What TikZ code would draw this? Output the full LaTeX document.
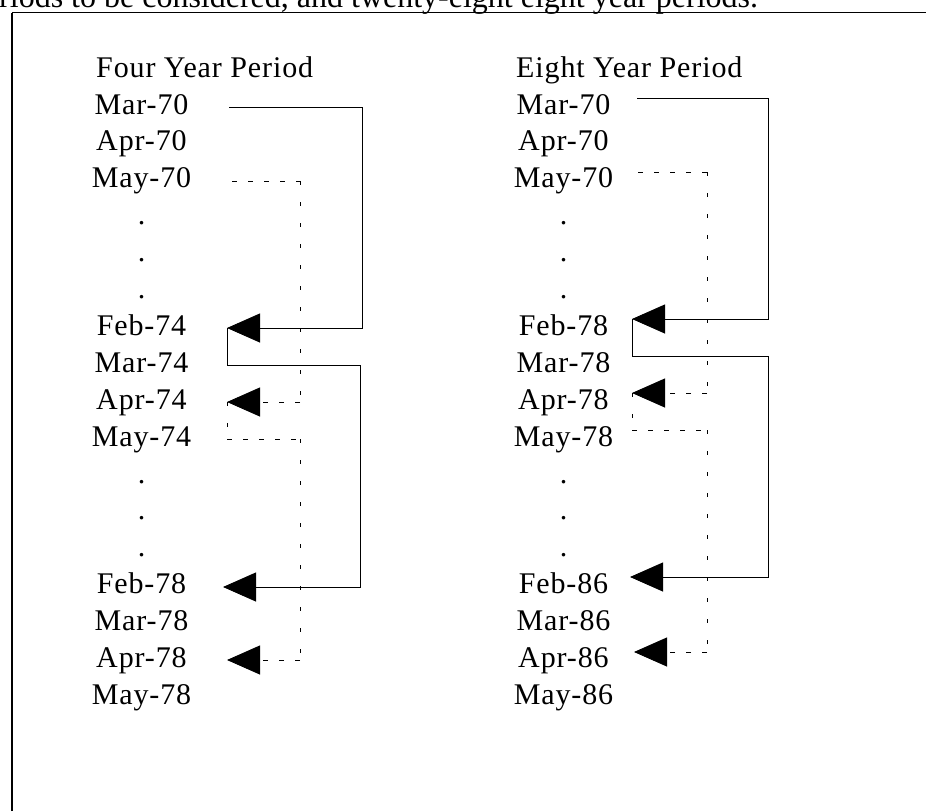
\documentclass[tikz,border=0pt]{standalone}
\usepackage{fontspec}
\setmainfont{Liberation Serif}
\newfontfamily\labfont[LetterSpace=3]{Liberation Serif}
\usetikzlibrary{arrows.meta}
\begin{document}
\begin{tikzpicture}[x=1pt,y=-1pt,
  lab/.style={font=\labfont\fontsize{30}{35}\selectfont, inner sep=0pt, anchor=base},
  hdr/.style={lab, anchor=base west},
  conn/.style={line width=0.9pt, line join=miter},
  hdash/.style={conn, dash pattern=on 5pt off 11pt},
  vdash/.style={conn, dash pattern=on 4pt off 17pt},
  tipped/.style={-{Triangle[length=33pt,width=29pt]}},
]
\useasboundingbox (0,0) rectangle (926,811);

% cropped caption above the box
\node[anchor=base west, inner sep=0pt, font=\fontsize{32}{38}\selectfont] (cap) at (-1,7.5) {riods to be considered, and twenty-eight eight year periods.};

% frame
\coordinate (fbl) at (12,811);
\coordinate (ftl) at (12,12.5);
\coordinate (ftr) at (926,12.5);
\draw[line width=2.2pt] (fbl) -- (ftl);
\draw[line width=1.4pt] (ftl) -- (ftr);

% headers
\node[hdr] (hL) at (96,77) {Four Year Period};
\node[hdr] (hR) at (516,77) {Eight Year Period};

% left column
\node[lab] (a0) at (141.5,114.0) {Mar-70};
\node[lab] (a1) at (141.5,150.9) {Apr-70};
\node[lab] (a2) at (141.5,187.8) {May-70};
\node[lab] (a3) at (141.5,224.7) {.};
\node[lab] (a4) at (141.5,261.6) {.};
\node[lab] (a5) at (141.5,298.5) {.};
\node[lab] (a6) at (141.5,335.4) {Feb-74};
\node[lab] (a7) at (141.5,372.3) {Mar-74};
\node[lab] (a8) at (141.5,409.2) {Apr-74};
\node[lab] (a9) at (141.5,446.1) {May-74};
\node[lab] (a10) at (141.5,483.0) {.};
\node[lab] (a11) at (141.5,519.9) {.};
\node[lab] (a12) at (141.5,556.8) {.};
\node[lab] (a13) at (141.5,593.7) {Feb-78};
\node[lab] (a14) at (141.5,630.6) {Mar-78};
\node[lab] (a15) at (141.5,667.5) {Apr-78};
\node[lab] (a16) at (141.5,704.4) {May-78};

% right column
\node[lab] (b0) at (563.5,114.0) {Mar-70};
\node[lab] (b1) at (563.5,150.9) {Apr-70};
\node[lab] (b2) at (563.5,187.8) {May-70};
\node[lab] (b3) at (563.5,224.7) {.};
\node[lab] (b4) at (563.5,261.6) {.};
\node[lab] (b5) at (563.5,298.5) {.};
\node[lab] (b6) at (563.5,335.4) {Feb-78};
\node[lab] (b7) at (563.5,372.3) {Mar-78};
\node[lab] (b8) at (563.5,409.2) {Apr-78};
\node[lab] (b9) at (563.5,446.1) {May-78};
\node[lab] (b10) at (563.5,483.0) {.};
\node[lab] (b11) at (563.5,519.9) {.};
\node[lab] (b12) at (563.5,556.8) {.};
\node[lab] (b13) at (563.5,593.7) {Feb-86};
\node[lab] (b14) at (563.5,630.6) {Mar-86};
\node[lab] (b15) at (563.5,667.5) {Apr-86};
\node[lab] (b16) at (563.5,704.4) {May-86};

% ---- left connectors ----
\coordinate (ls1a) at (229,107);
\coordinate (ls1b) at (362,107);
\coordinate (ls1c) at (362,328);
\coordinate (lt1) at (227,328);
\draw[conn,tipped] (ls1a) -- (ls1b) -- (ls1c) -- (lt1);

\coordinate (ls2a) at (227,365);
\coordinate (ls2b) at (360,365);
\coordinate (ls2c) at (360,587);
\coordinate (lt2) at (223,587);
\draw[conn] (lt1) -- (ls2a);
\draw[conn,tipped] (ls2a) -- (ls2b) -- (ls2c) -- (lt2);

\coordinate (ld1a) at (232,181);
\coordinate (ld1b) at (300,181);
\coordinate (ld1c) at (300,402);
\coordinate (lt3) at (227,402);
\draw[hdash] (ld1a) -- (ld1b);
\draw[vdash] (ld1b) -- (ld1c);
\draw[hdash,tipped] (ld1c) -- (lt3);

\coordinate (ld2a) at (227,439);
\coordinate (ld2b) at (300,439);
\coordinate (ld2c) at (300,660);
\coordinate (lt4) at (227,660);
\draw[vdash] (lt3) -- (ld2a);
\draw[hdash] (ld2a) -- (ld2b);
\draw[vdash] (ld2b) -- (ld2c);
\draw[hdash,tipped] (ld2c) -- (lt4);

% ---- right connectors ----
\coordinate (rs1a) at (637,98);
\coordinate (rs1b) at (768,98);
\coordinate (rs1c) at (768,319);
\coordinate (rt1) at (632,319);
\draw[conn,tipped] (rs1a) -- (rs1b) -- (rs1c) -- (rt1);

\coordinate (rs2a) at (632,356);
\coordinate (rs2b) at (768,356);
\coordinate (rs2c) at (768,577);
\coordinate (rt2) at (630,577);
\draw[conn] (rt1) -- (rs2a);
\draw[conn,tipped] (rs2a) -- (rs2b) -- (rs2c) -- (rt2);

\coordinate (rd1a) at (638,172);
\coordinate (rd1b) at (707,172);
\coordinate (rd1c) at (707,393);
\coordinate (rt3) at (632,393);
\draw[hdash] (rd1a) -- (rd1b);
\draw[vdash] (rd1b) -- (rd1c);
\draw[hdash,tipped] (rd1c) -- (rt3);

\coordinate (rd2a) at (632,430);
\coordinate (rd2b) at (707,430);
\coordinate (rd2c) at (707,652);
\coordinate (rt4) at (634,652);
\draw[vdash] (rt3) -- (rd2a);
\draw[hdash] (rd2a) -- (rd2b);
\draw[vdash] (rd2b) -- (rd2c);
\draw[hdash,tipped] (rd2c) -- (rt4);
\end{tikzpicture}
\end{document}
